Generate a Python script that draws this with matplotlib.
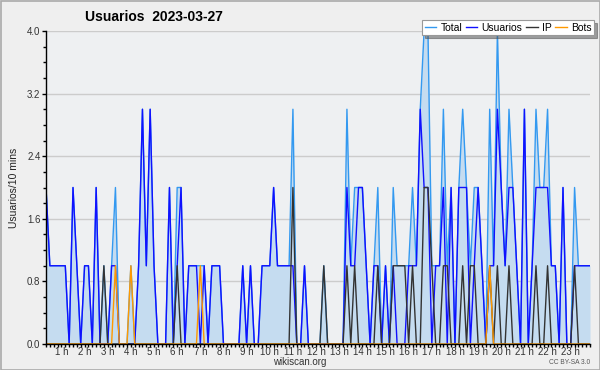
import numpy as np
import matplotlib
matplotlib.use("Agg")
from matplotlib import pyplot as plt
from matplotlib.patches import Rectangle

# 10-minute slots, first one at 00:20
usuarios = [2, 1, 1, 1, 1, 1, 0, 2, 1, 0, 1, 1,
            0, 2, 0, 0, 0, 1, 1, 0, 0, 0, 0, 0,
            1, 3, 1, 3, 1, 0, 0, 0, 2, 0, 1, 2,
            0, 1, 1, 1, 0, 1, 0, 1, 1, 1, 0, 0,
            0, 0, 0, 1, 0, 1, 0, 0, 1, 1, 1, 2,
            1, 1, 1, 1, 1, 0, 0, 1, 0, 0, 0, 0,
            0, 0, 0, 0, 0, 0, 2, 1, 1, 2, 2, 1,
            0, 1, 1, 0, 1, 0, 1, 0, 0, 0, 1, 1,
            1, 3, 2, 2, 0, 1, 1, 2, 0, 2, 0, 2,
            2, 2, 0, 1, 2, 1, 0, 1, 1, 3, 2, 1,
            2, 2, 1, 0, 3, 0, 1, 2, 2, 2, 2, 1,
            1, 0, 2, 0, 0, 1, 1, 1, 1, 1]

total = [2, 1, 1, 1, 1, 1, 0, 2, 1, 0, 1, 1,
         0, 2, 0, 1, 0, 1, 2, 0, 0, 0, 1, 0,
         1, 3, 1, 3, 1, 0, 0, 0, 2, 0, 2, 2,
         0, 1, 1, 1, 1, 1, 0, 1, 1, 1, 0, 0,
         0, 0, 0, 1, 0, 1, 0, 0, 1, 1, 1, 2,
         1, 1, 1, 1, 3, 0, 0, 1, 0, 0, 0, 0,
         1, 0, 0, 0, 0, 0, 3, 1, 2, 2, 2, 1,
         0, 1, 2, 0, 1, 0, 2, 1, 1, 1, 1, 2,
         1, 3, 4, 4, 1, 1, 1, 3, 1, 2, 0, 2,
         3, 2, 1, 2, 2, 1, 0, 3, 1, 4, 2, 1,
         3, 2, 1, 0, 3, 0, 1, 3, 2, 2, 3, 1,
         1, 0, 2, 0, 0, 2, 1, 1, 1, 1]

ip = [0, 0, 0, 0, 0, 0, 0, 0, 0, 0, 0, 0,
      0, 0, 0, 1, 0, 0, 0, 0, 0, 0, 0, 0,
      0, 0, 0, 0, 0, 0, 0, 0, 0, 0, 1, 0,
      0, 0, 0, 0, 0, 0, 0, 0, 0, 0, 0, 0,
      0, 0, 0, 0, 0, 0, 0, 0, 0, 0, 0, 0,
      0, 0, 0, 0, 2, 0, 0, 0, 0, 0, 0, 0,
      1, 0, 0, 0, 0, 0, 1, 0, 1, 0, 0, 0,
      0, 0, 1, 0, 0, 0, 1, 1, 1, 1, 0, 1,
      0, 0, 2, 2, 1, 0, 0, 1, 1, 0, 0, 0,
      1, 0, 1, 1, 0, 0, 0, 1, 0, 1, 0, 0,
      1, 0, 0, 0, 0, 0, 0, 1, 0, 0, 1, 0,
      0, 0, 0, 0, 0, 1, 0, 0, 0, 0]

bots = [0, 0, 0, 0, 0, 0, 0, 0, 0, 0, 0, 0,
        0, 0, 0, 0, 0, 0, 1, 0, 0, 0, 1, 0,
        0, 0, 0, 0, 0, 0, 0, 0, 0, 0, 0, 0,
        0, 0, 0, 0, 1, 0, 0, 0, 0, 0, 0, 0,
        0, 0, 0, 0, 0, 0, 0, 0, 0, 0, 0, 0,
        0, 0, 0, 0, 0, 0, 0, 0, 0, 0, 0, 0,
        0, 0, 0, 0, 0, 0, 0, 0, 0, 0, 0, 0,
        0, 0, 0, 0, 0, 0, 0, 0, 0, 0, 0, 0,
        0, 0, 0, 0, 0, 0, 0, 0, 0, 0, 0, 0,
        0, 0, 0, 0, 0, 0, 0, 1, 0, 0, 0, 0,
        0, 0, 0, 0, 0, 0, 0, 0, 0, 0, 0, 0,
        0, 0, 0, 0, 0, 0, 0, 0, 0, 0]

hours = list(range(1, 24))
hour_labels = [f"{h} h" for h in hours]
y_ticks = [0.0, 0.8, 1.6, 2.4, 3.2, 4.0]

plt.rcParams['font.family'] = ['Liberation Sans', 'DejaVu Sans']

bg = '#efefef'
fig = plt.figure(figsize=(6, 3.7), dpi=100, facecolor=bg)
ax = fig.add_axes([46 / 600, 26 / 370, 544 / 600, 313 / 370])
ax.set_facecolor('#eef0f2')

x = np.arange(len(total))
ax.fill_between(x, 0, total, color='#c5dcf0', lw=0, zorder=1)
ax.plot(x, total, color='#3399f0', lw=1.0, label='Total', zorder=3)
ax.plot(x, usuarios, color='#1010ff', lw=1.0, label='Usuarios', zorder=4)
ax.plot(x, ip, color='#333333', lw=1.0, label='IP', zorder=5)
ax.plot(x, bots, color='#ff9900', lw=1.0, label='Bots', zorder=6)

ax.set_xlim(0, len(total) - 1)
ax.set_ylim(0, 4)

# hour h sits at slot 6h - 2 (first slot is 00:20)
ax.set_xticks([6 * h - 2 for h in hours])
ax.set_xticklabels(hour_labels, fontsize=7, color='#333333')
ax.set_xticks(x, minor=True)
ax.set_yticks(y_ticks)
ax.set_yticklabels([f"{v:.1f}" for v in y_ticks], fontsize=7, color='#333333')
ax.set_yticks(np.arange(0, 4.01, 0.2), minor=True)
ax.tick_params(axis='y', which='major', length=3, width=1, pad=1)
ax.tick_params(axis='y', which='minor', length=2.2, width=1)
ax.tick_params(axis='x', which='major', length=2.2, width=1, pad=0)
ax.tick_params(axis='x', which='minor', length=2.0, width=1)

ax.grid(axis='y', which='major', color='#cccccc', lw=1)
ax.set_axisbelow(True)
for side in ['top', 'right']:
    ax.spines[side].set_visible(False)
for side in ['left', 'bottom']:
    ax.spines[side].set_linewidth(1)
    ax.spines[side].set_zorder(10)

ax.set_ylabel('Usuarios/10 mins', fontsize=7.5, color='#222222', labelpad=6)

fig.text(0.5, 8 / 370, 'wikiscan.org', fontsize=7, color='#333333',
         ha='center', va='center')
fig.text(0.142, 0.955, 'Usuarios  2023-03-27', fontsize=10, fontweight='bold',
         ha='left', va='center')
fig.text(0.983, 7 / 370, 'CC BY-SA 3.0', fontsize=4.8, color='#555555',
         ha='right', va='center')

leg = ax.legend(loc='upper right', bbox_to_anchor=(594 / 600, 350 / 370),
                bbox_transform=fig.transFigure, ncol=4, fontsize=7.5,
                frameon=True, fancybox=False, shadow=True, borderpad=0.25,
                handlelength=1.1, handletextpad=0.4, columnspacing=0.35,
                borderaxespad=0)
leg.get_frame().set_edgecolor('#999999')
leg.get_frame().set_linewidth(0.8)
leg.set_zorder(20)

fig.patches.append(Rectangle((0.5 / 600, 0.5 / 370), 599 / 600, 369 / 370,
                             transform=fig.transFigure, fill=False,
                             edgecolor='#aaaaaa', lw=1.2))

fig.savefig('out.png', dpi=100, facecolor=bg)
